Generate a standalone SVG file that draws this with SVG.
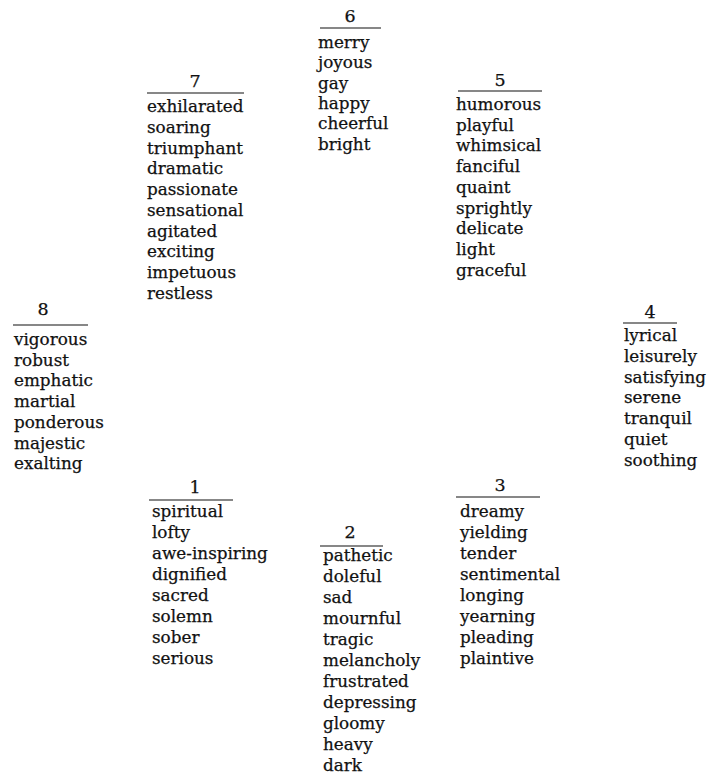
<svg xmlns="http://www.w3.org/2000/svg" width="707" height="777" viewBox="0 0 707 777">
<style>
text{font-family:"DejaVu Serif","Liberation Serif",serif;font-size:16.8px;fill:#111;stroke:#111;stroke-width:0.25}
.n{text-anchor:middle;font-size:17.5px}
.r{stroke:#111;stroke-width:1.2}
</style>
<rect width="707" height="777" fill="#fff"/>
<g id="group-6">
<text class="n" x="350" y="22">6</text>
<line class="r" x1="320" y1="28" x2="381" y2="28"/>
<text x="318" y="48">merry</text>
<text x="318" y="68.3">joyous</text>
<text x="318" y="88.6">gay</text>
<text x="318" y="108.9">happy</text>
<text x="318" y="129.2">cheerful</text>
<text x="318" y="149.5">bright</text>
</g>
<g id="group-7">
<text class="n" x="195" y="87">7</text>
<line class="r" x1="147" y1="93" x2="244" y2="93"/>
<text x="147" y="112">exhilarated</text>
<text x="147" y="132.8">soaring</text>
<text x="147" y="153.5">triumphant</text>
<text x="147" y="174.2">dramatic</text>
<text x="147" y="195">passionate</text>
<text x="147" y="215.8">sensational</text>
<text x="147" y="236.5">agitated</text>
<text x="147" y="257.2">exciting</text>
<text x="147" y="278">impetuous</text>
<text x="147" y="298.8">restless</text>
</g>
<g id="group-5">
<text class="n" x="500" y="86">5</text>
<line class="r" x1="458" y1="91" x2="542" y2="91"/>
<text x="456" y="110">humorous</text>
<text x="456" y="130.7">playful</text>
<text x="456" y="151.4">whimsical</text>
<text x="456" y="172.1">fanciful</text>
<text x="456" y="192.8">quaint</text>
<text x="456" y="213.5">sprightly</text>
<text x="456" y="234.2">delicate</text>
<text x="456" y="254.9">light</text>
<text x="456" y="275.6">graceful</text>
</g>
<g id="group-8">
<text class="n" x="43" y="315">8</text>
<line class="r" x1="13" y1="325" x2="88" y2="325"/>
<text x="14" y="345">vigorous</text>
<text x="14" y="365.7">robust</text>
<text x="14" y="386.4">emphatic</text>
<text x="14" y="407.1">martial</text>
<text x="14" y="427.8">ponderous</text>
<text x="14" y="448.5">majestic</text>
<text x="14" y="469.2">exalting</text>
</g>
<g id="group-4">
<text class="n" x="650" y="318">4</text>
<line class="r" x1="623" y1="323" x2="677" y2="323"/>
<text x="624" y="341">lyrical</text>
<text x="624" y="361.8">leisurely</text>
<text x="624" y="382.6">satisfying</text>
<text x="624" y="403.4">serene</text>
<text x="624" y="424.2">tranquil</text>
<text x="624" y="445">quiet</text>
<text x="624" y="465.8">soothing</text>
</g>
<g id="group-1">
<text class="n" x="195" y="493">1</text>
<line class="r" x1="149" y1="500" x2="233" y2="500"/>
<text x="152" y="517">spiritual</text>
<text x="152" y="538">lofty</text>
<text x="152" y="559">awe-inspiring</text>
<text x="152" y="580">dignified</text>
<text x="152" y="601">sacred</text>
<text x="152" y="622">solemn</text>
<text x="152" y="643">sober</text>
<text x="152" y="664">serious</text>
</g>
<g id="group-2">
<text class="n" x="350" y="538">2</text>
<line class="r" x1="320" y1="546" x2="383" y2="546"/>
<text x="323" y="561">pathetic</text>
<text x="323" y="582">doleful</text>
<text x="323" y="603">sad</text>
<text x="323" y="624">mournful</text>
<text x="323" y="645">tragic</text>
<text x="323" y="666">melancholy</text>
<text x="323" y="687">frustrated</text>
<text x="323" y="708">depressing</text>
<text x="323" y="729">gloomy</text>
<text x="323" y="750">heavy</text>
<text x="323" y="771">dark</text>
</g>
<g id="group-3">
<text class="n" x="500" y="491">3</text>
<line class="r" x1="456" y1="497" x2="540" y2="497"/>
<text x="460" y="517">dreamy</text>
<text x="460" y="538">yielding</text>
<text x="460" y="559">tender</text>
<text x="460" y="580">sentimental</text>
<text x="460" y="601">longing</text>
<text x="460" y="622">yearning</text>
<text x="460" y="643">pleading</text>
<text x="460" y="664">plaintive</text>
</g>
</svg>
